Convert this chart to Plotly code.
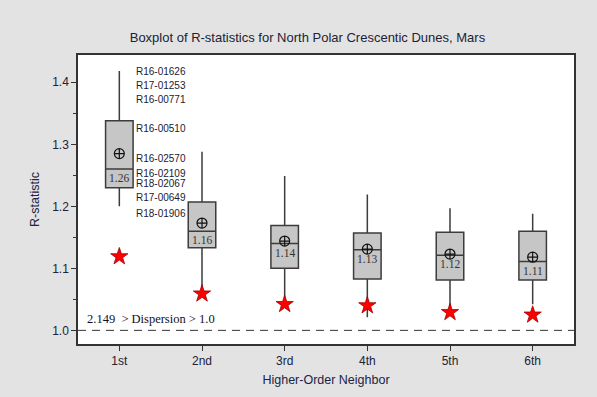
import plotly.graph_objects as go

categories = ["1st", "2nd", "3rd", "4th", "5th", "6th"]
positions = [0, 1, 2, 3, 4, 5]
upper_whisker = [1.418, 1.288, 1.249, 1.219, 1.197, 1.188]
q3 = [1.338, 1.207, 1.169, 1.157, 1.158, 1.160]
median = [1.260, 1.160, 1.140, 1.130, 1.121, 1.111]
q1 = [1.230, 1.133, 1.100, 1.083, 1.081, 1.081]
lower_whisker = [1.200, 1.060, 1.042, 1.021, 1.036, 1.042]
means = [1.285, 1.173, 1.144, 1.131, 1.123, 1.118]
median_labels = ["1.26", "1.16", "1.14", "1.13", "1.12", "1.11"]
star_values = [1.119, 1.059, 1.042, 1.040, 1.029, 1.025]

outlier_names = ["R16-01626", "R17-01253", "R16-00771", "R16-00510", "R16-02570",
                 "R16-02109", "R18-02067", "R17-00649", "R18-01906"]
outlier_label_y = [1.4175, 1.3948, 1.3719, 1.3259, 1.2767, 1.2535, 1.2376, 1.2138, 1.188]

yticks = [1.0, 1.1, 1.2, 1.3, 1.4]
ytick_labels = ["1.0", "1.1", "1.2", "1.3", "1.4"]

title_text = "Boxplot of R-statistics for North Polar Crescentic Dunes, Mars"
dispersion_text = "2.149  > Dispersion > 1.0"

fig = go.Figure()

fig.add_trace(go.Box(
    x=positions, q1=q1, median=median, q3=q3,
    lowerfence=lower_whisker, upperfence=upper_whisker,
    width=0.333, whiskerwidth=0,
    fillcolor="#c6c6c6", line=dict(color="#3c3c3c", width=1.5),
    boxpoints=False, hoverinfo="skip", showlegend=False,
))

fig.add_trace(go.Scatter(
    x=positions, y=means, mode="markers",
    marker=dict(symbol="circle-cross-open", size=10, color="#111111", line=dict(width=1.2)),
    showlegend=False, hoverinfo="skip",
))

fig.add_trace(go.Scatter(
    x=positions, y=star_values, mode="markers",
    marker=dict(symbol="star", size=13, color="#ff0000", line=dict(color="#a00000", width=0.8)),
    showlegend=False, hoverinfo="skip",
))

for xp, m, lab in zip(positions, median, median_labels):
    fig.add_annotation(x=xp, y=m, text=lab, showarrow=False, xanchor="center", yanchor="top",
                       yshift=-1, font=dict(family="Liberation Serif", size=11.5, color="#333333"))

for name, yy in zip(outlier_names, outlier_label_y):
    fig.add_annotation(x=0.175, y=yy, text=name, showarrow=False, xanchor="left", yanchor="middle",
                       font=dict(family="Liberation Sans", size=10, color="#1a1a33"))

fig.add_annotation(x=0.015, xref="paper", y=1.019, text=dispersion_text, showarrow=False,
                   xanchor="left", yanchor="middle",
                   font=dict(family="Liberation Serif", size=12.5, color="#111122"))

fig.add_shape(type="line", xref="paper", x0=0, x1=1, y0=1.0, y1=1.0,
              line=dict(color="#333333", width=1, dash="8px,6px"))

fig.update_layout(
    width=597, height=397,
    margin=dict(l=78, r=23, t=55, b=48),
    paper_bgcolor="#e3e3e3", plot_bgcolor="#ffffff",
    title=dict(text=title_text, x=0.515, xanchor="center", y=1 - 37 / 397, yanchor="middle",
               font=dict(family="Liberation Sans", size=13, color="#222233")),
    xaxis=dict(range=[-0.5, 5.5], tickvals=positions, ticktext=categories,
               ticks="outside", ticklen=5, tickcolor="#333333",
               showline=True, linecolor="#333333", linewidth=1.5, mirror=True,
               showgrid=False, zeroline=False,
               title=dict(text="Higher-Order Neighbor", standoff=8,
                          font=dict(family="Liberation Sans", size=12.5, color="#222244")),
               tickfont=dict(family="Liberation Sans", size=12, color="#222233")),
    yaxis=dict(range=[0.978, 1.444], tickvals=yticks, ticktext=ytick_labels,
               ticks="outside", ticklen=5, tickcolor="#333333",
               minor=dict(dtick=0.05, tick0=1.0, ticks="outside", ticklen=3, tickcolor="#333333"),
               showline=True, linecolor="#333333", linewidth=1.5, mirror=True,
               showgrid=False, zeroline=False,
               title=dict(text="R-statistic", standoff=10,
                          font=dict(family="Liberation Sans", size=12.5, color="#222244")),
               tickfont=dict(family="Liberation Sans", size=12, color="#222233")),
)

fig.write_html("out.html", config={"displayModeBar": False},
               post_script="document.body.style.margin='0px';")
